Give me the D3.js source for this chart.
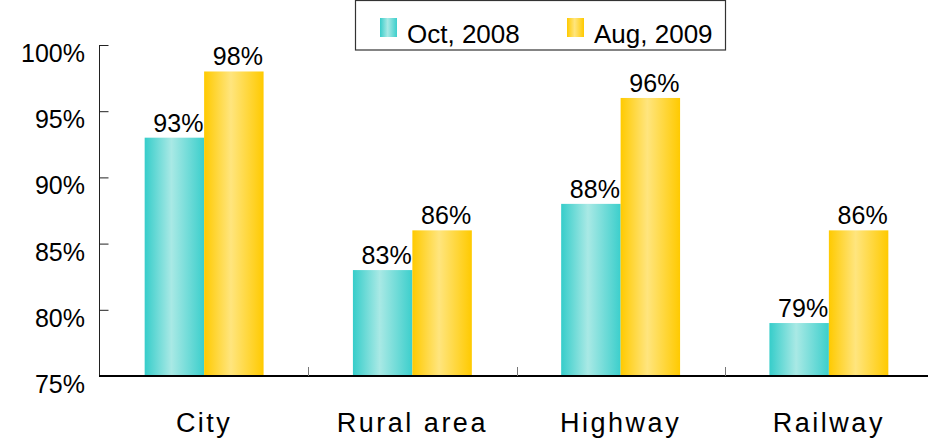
<!DOCTYPE html>
<html>
<head>
<meta charset="utf-8">
<script src="https://cdn.jsdelivr.net/npm/d3@7"></script>
<style>
  html, body { margin: 0; padding: 0; background: #fff; }
  svg { display: block; font-family: "Liberation Sans", Arial, sans-serif; }
</style>
</head>
<body>
<svg id="chart" width="928" height="444"></svg>
<script>
// chart data
const categories = ["City", "Rural area", "Highway", "Railway"];
const seriesNames = ["Oct, 2008", "Aug, 2009"];
const oct2008 = [93, 83, 88, 79];
const aug2009 = [98, 86, 96, 86];
const yTicks = [75, 80, 85, 90, 95, 100];

const seriesValues = [oct2008, aug2009];
const gradColors = [
  ["#36cdca", "#a9e9e5", "#3ccfcc"],
  ["#ffca00", "#ffe57e", "#ffca00"]
];

const svg = d3.select("#chart");
const W = 928, H = 444;

const yScale = d3.scaleLinear().domain([75, 100]).range([376, 45]);
const x0 = d3.scaleBand().domain(categories).range([100, 933]).padding(0);
const bw = x0.bandwidth();
const x1 = d3.scaleBand().domain(d3.range(seriesNames.length))
  .range([bw * 0.2145, bw * 0.7855]).padding(0);

// gradients
const defs = svg.append("defs");
gradColors.forEach((c, i) => {
  const g = defs.append("linearGradient").attr("id", "grad" + i)
    .attr("x1", "0%").attr("x2", "100%").attr("y1", "0%").attr("y2", "0%");
  g.append("stop").attr("offset", "0%").attr("stop-color", c[0]);
  g.append("stop").attr("offset", "45%").attr("stop-color", c[1]);
  g.append("stop").attr("offset", "100%").attr("stop-color", c[2]);
});

// y axis
const yAxis = svg.append("g")
  .attr("transform", "translate(99.5,0)")
  .call(d3.axisRight(yScale).tickValues(yTicks).tickSize(9).tickFormat(""));
yAxis.select(".domain").attr("stroke", "#222").attr("d", "M0," + yScale(100) + "V" + yScale(75));
yAxis.selectAll(".tick line").attr("stroke", "#222");
yAxis.selectAll(".tick").filter(d => d === 75).select("line").remove();

svg.append("g").selectAll("text")
  .data(yTicks).enter().append("text")
  .attr("x", 85)
  .attr("y", d => yScale(d) + 17)
  .attr("text-anchor", "end")
  .attr("font-size", 25)
  .attr("fill", "#000")
  .text(d => d + "%");

// bars; labels of the first series sit under the second series' bars (clipped like the original)
const groups = svg.append("g");
seriesValues.forEach((vals, si) => {
  const g = groups.append("g");
  g.selectAll("rect").data(vals).enter().append("rect")
    .attr("x", (d, i) => x0(categories[i]) + x1(si))
    .attr("y", d => yScale(d))
    .attr("width", x1.bandwidth())
    .attr("height", d => yScale(75) - yScale(d))
    .attr("fill", "url(#grad" + si + ")");
});
seriesValues.forEach((vals, si) => {
  groups.insert("g", si === 0 ? "g:nth-child(2)" : null)
    .selectAll("text").data(vals).enter().append("text")
    .attr("x", (d, i) => x0(categories[i]) + x1(si) + x1.bandwidth() / 2 + 4)
    .attr("y", d => yScale(d) - 6)
    .attr("text-anchor", "middle")
    .attr("font-size", 25)
    .attr("fill", "#000")
    .text(d => d + "%");
});

// x axis
const xAxis = svg.append("g")
  .attr("transform", "translate(0,376)");
xAxis.append("line")
  .attr("x1", 99).attr("x2", W).attr("y1", 0).attr("y2", 0)
  .attr("stroke", "#000").attr("stroke-width", 2);
xAxis.selectAll("line.tk").data(categories.slice(1)).enter().append("line")
  .attr("class", "tk")
  .attr("x1", d => Math.round(x0(d)) + 0.5).attr("x2", d => Math.round(x0(d)) + 0.5)
  .attr("y1", 0).attr("y2", -9)
  .attr("stroke", "#777").attr("stroke-width", 1);
xAxis.selectAll("text").data(categories).enter().append("text")
  .attr("x", d => x0(d) + bw / 2)
  .attr("y", 56)
  .attr("text-anchor", "middle")
  .attr("font-size", 27)
  .attr("letter-spacing", 2.5)
  .attr("fill", "#000")
  .text(d => d);

// legend
const legend = svg.append("g");
legend.append("rect")
  .attr("x", 355.5).attr("y", 0.5).attr("width", 370).attr("height", 49.5)
  .attr("fill", "#fff").attr("stroke", "#333").attr("stroke-width", 1.2);
const legX = [380, 567];
seriesNames.forEach((s, i) => {
  legend.append("rect")
    .attr("x", legX[i]).attr("y", 18).attr("width", 17).attr("height", 19)
    .attr("fill", "url(#grad" + i + ")");
  legend.append("text")
    .attr("x", legX[i] + 27).attr("y", 43)
    .attr("font-size", 26)
    .attr("fill", "#000")
    .text(s);
});
</script>
</body>
</html>
